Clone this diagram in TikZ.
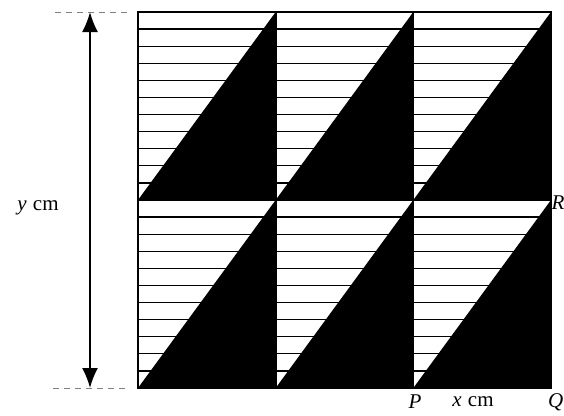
\documentclass[tikz,border=0pt]{standalone}
\usepackage{fontspec}
\setmainfont{Liberation Serif}
\usetikzlibrary{arrows.meta}
\begin{document}
\begin{tikzpicture}[x=1pt,y=-1pt,
  hatch/.style={line width=1.3pt,black},
  frame/.style={line width=1.8pt,black},
  guide/.style={dashed,dash pattern=on 6pt off 5pt,line width=1pt,gray},
  dimarrow/.style={line width=1.8pt,{Latex[length=20pt,width=16pt]}-{Latex[length=20pt,width=16pt]}},
  lab/.style={font=\fontsize{21}{24}\selectfont,inner sep=0pt}]
\useasboundingbox (0,0) rectangle (564,415);
% grid coordinates
\coordinate (A00) at (138,12);
\coordinate (A10) at (275.7,12);
\coordinate (A20) at (413.3,12);
\coordinate (A30) at (551,12);
\coordinate (A01) at (138,200);
\coordinate (A11) at (275.7,200);
\coordinate (A21) at (413.3,200);
\coordinate (A31) at (551,200);
\coordinate (A02) at (138,388);
\coordinate (A12) at (275.7,388);
\coordinate (A22) at (413.3,388);
\coordinate (A32) at (551,388);
% hatching
\foreach \k in {1,...,21}{
  \draw[hatch] (138,{12+\k*376/22}) -- (551,{12+\k*376/22});
}
% black triangles
\foreach \i/\j in {0/1,1/2,2/3}{
  \fill[black] (A\i1) -- (A\j0) -- (A\j1) -- cycle;
  \fill[black] (A\i2) -- (A\j1) -- (A\j2) -- cycle;
}
% frame
\draw[frame] (A00) rectangle (A32);
\draw[frame] (A10) -- (A12);
\draw[frame] (A20) -- (A22);
\draw[frame] (A01) -- (A31);
% dashed guides
\coordinate (T1) at (55,12);
\coordinate (T2) at (130,12);
\coordinate (B1) at (53,388);
\coordinate (B2) at (130,388);
\draw[guide] (T1) -- (T2);
\draw[guide] (B1) -- (B2);
% dimension arrow
\coordinate (UT) at (90,12);
\coordinate (UB) at (90,388);
\draw[dimarrow] (UB) -- (UT);
% labels
\node[lab] (ylab) at (38,208) {\textit{y}\hspace{0.3em}cm};
\node[lab,anchor=west] (Rlab) at (551.5,203) {\textit{R}};
\node[lab] (Plab) at (415,402) {\textit{P}};
\node[lab] (xlab) at (473,402) {\textit{x}\hspace{0.3em}cm};
\node[lab,anchor=west] (Qlab) at (548,402) {\textit{Q}};
\end{tikzpicture}
\end{document}
